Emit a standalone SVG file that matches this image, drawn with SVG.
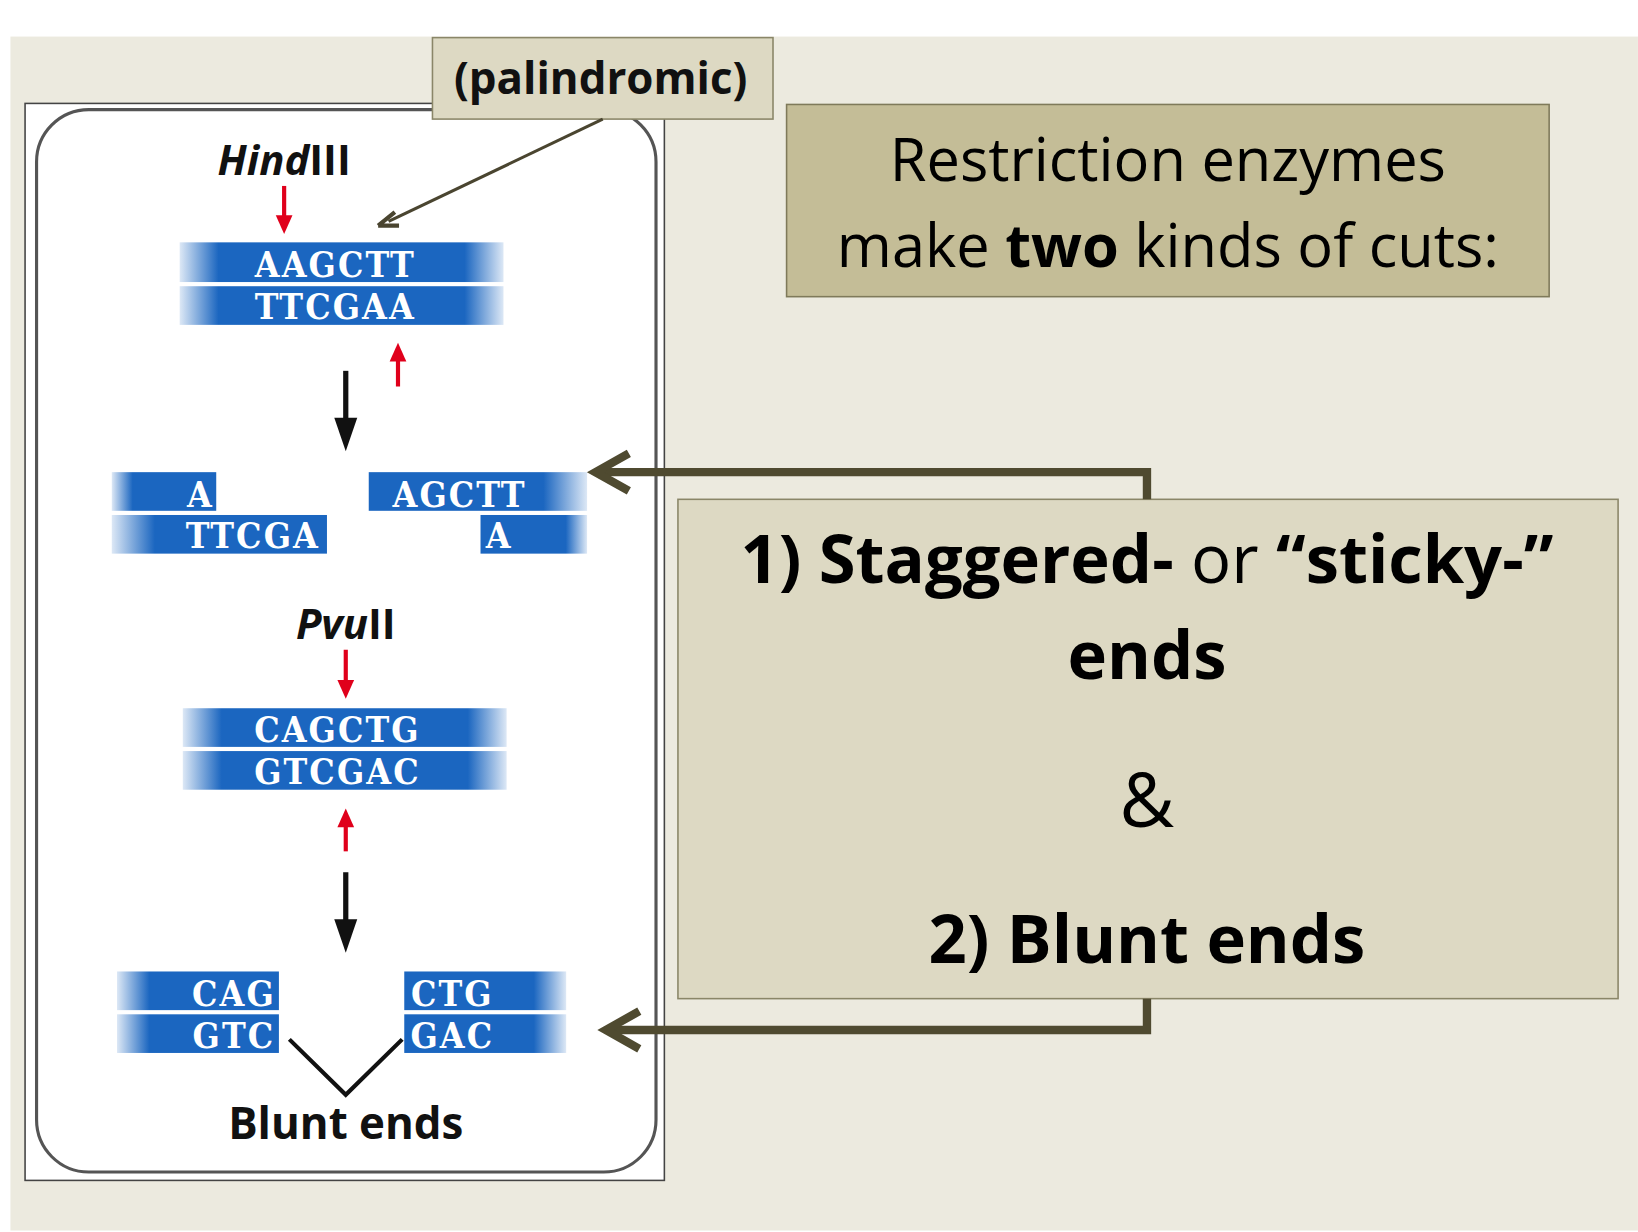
<svg xmlns="http://www.w3.org/2000/svg" width="1638" height="1232" viewBox="0 0 1638 1232">
<defs>
<linearGradient id="gb"><stop offset="0" stop-color="#1b66c0" stop-opacity="0.15"/><stop offset="0.12" stop-color="#1b66c0"/><stop offset="0.88" stop-color="#1b66c0"/><stop offset="1" stop-color="#1b66c0" stop-opacity="0.15"/></linearGradient>
<linearGradient id="gl"><stop offset="0" stop-color="#1b66c0" stop-opacity="0.15"/><stop offset="0.2" stop-color="#1b66c0"/><stop offset="1" stop-color="#1b66c0"/></linearGradient>
<linearGradient id="gr"><stop offset="0" stop-color="#1b66c0"/><stop offset="0.8" stop-color="#1b66c0"/><stop offset="1" stop-color="#1b66c0" stop-opacity="0.15"/></linearGradient>
<style>
.dna{font-family:'DejaVu Serif Condensed','DejaVu Serif',serif;font-stretch:condensed;font-weight:bold;font-size:34px;fill:#fff;text-anchor:middle;letter-spacing:2px}
.lab{font-family:'Open Sans','Liberation Sans',sans-serif;font-weight:bold;fill:#111;text-anchor:middle}
.big{font-family:'Open Sans','Liberation Sans',sans-serif;fill:#000;text-anchor:middle}
.red{stroke:#e0001b;stroke-width:4;fill:none}
.con{fill:none;stroke:#4f4a30;stroke-width:8}
</style>
</defs>
<g transform="scale(1.0446)">
<rect x="10" y="35" width="1558" height="1143" fill="#ECEADF"/>
<g id="panel">
<rect x="24" y="99" width="612" height="1031" fill="#fff" stroke="#444" stroke-width="1.5"/>
<rect x="35" y="105" width="593" height="1017" rx="50" fill="#fff" stroke="#555" stroke-width="3"/>
</g>
<g id="hind">
<text x="272" y="168" class="lab" font-size="40"><tspan font-style="italic">Hind</tspan>III</text>
<path class="red" d="M272,178 V210"/><path d="M264,206 L272,224 L280,206 z" fill="#e0001b"/>
<rect x="172" y="232" width="310" height="38" fill="url(#gb)"/><rect x="172" y="274" width="310" height="37" fill="url(#gb)"/>
<text x="321" y="265" class="dna">AAGCTT</text><text x="321" y="305" class="dna">TTCGAA</text>
<path class="red" d="M381,370 V342"/><path d="M373,346 L381,328 L389,346 z" fill="#e0001b"/>
<path d="M331,355 V405" stroke="#111" stroke-width="5"/><path d="M320,400 L331,432 L342,400 z" fill="#111"/>
</g>
<g id="sticky">
<rect x="107" y="452" width="100" height="37" fill="url(#gl)"/><rect x="107" y="493" width="206" height="37" fill="url(#gl)"/>
<text x="192" y="485" class="dna">A</text><text x="242" y="525" class="dna">TTCGA</text>
<rect x="353" y="452" width="209" height="37" fill="url(#gr)"/><rect x="460" y="493" width="102" height="37" fill="url(#gr)"/>
<text x="440" y="485" class="dna">AGCTT</text><text x="478" y="525" class="dna">A</text>
</g>
<g id="pvu">
<text x="331" y="612" class="lab" font-size="40"><tspan font-style="italic">Pvu</tspan>II</text>
<path class="red" d="M331,622 V655"/><path d="M323,651 L331,669 L339,651 z" fill="#e0001b"/>
<rect x="175" y="678" width="310" height="37" fill="url(#gb)"/><rect x="175" y="719" width="310" height="37" fill="url(#gb)"/>
<text x="323" y="710" class="dna">CAGCTG</text><text x="323" y="751" class="dna">GTCGAC</text>
<path class="red" d="M331,815 V788"/><path d="M323,792 L331,774 L339,792 z" fill="#e0001b"/>
<path d="M331,835 V885" stroke="#111" stroke-width="5"/><path d="M320,880 L331,912 L342,880 z" fill="#111"/>
</g>
<g id="blunt">
<rect x="112" y="930" width="155" height="37" fill="url(#gl)"/><rect x="112" y="971" width="155" height="37" fill="url(#gl)"/>
<text x="224" y="963" class="dna">CAG</text><text x="224" y="1003" class="dna">GTC</text>
<rect x="387" y="930" width="155" height="37" fill="url(#gr)"/><rect x="387" y="971" width="155" height="37" fill="url(#gr)"/>
<text x="433" y="963" class="dna">CTG</text><text x="433" y="1003" class="dna">GAC</text>
<path d="M277,995 L331,1048 L385,995" fill="none" stroke="#111" stroke-width="4"/>
<text x="331" y="1090" class="lab" font-size="42">Blunt ends</text>
</g>
<g id="palin">
<rect x="414" y="36" width="326" height="78" fill="#DDD9C3" stroke="#8a8668" stroke-width="1.5"/>
<text x="575" y="90" class="lab" font-size="42">(palindromic)</text>
</g>
<g id="title">
<rect x="753" y="100" width="730" height="184" fill="#C4BD97" stroke="#7f7a5a" stroke-width="1.5"/>
<text x="1118" y="173" class="big" font-size="57">Restriction enzymes</text>
<text x="1118" y="256" class="big" font-size="57">make <tspan font-weight="bold">two</tspan> kinds of cuts:</text>
</g>
<g id="types">
<rect x="649" y="478" width="900" height="478" fill="#DDD9C3" stroke="#8a8668" stroke-width="1.5"/>
<text x="1098" y="558" class="big" font-size="64"><tspan font-weight="bold">1) Staggered-</tspan> or <tspan font-weight="bold">“sticky-”</tspan></text>
<text x="1098" y="650" class="big" font-size="64" font-weight="bold">ends</text>
<text x="1098" y="792" class="big" font-size="72">&amp;</text>
<text x="1098" y="922" class="big" font-size="64" font-weight="bold">2) Blunt ends</text>
</g>
<g id="connectors">
<path d="M577,114 L372,212" stroke="#4a4530" stroke-width="3"/>
<path d="M362,216 L378,203 M362,216 L382,216" stroke="#4a4530" stroke-width="4" fill="none"/>
<path class="con" d="M1098,478 V452 H572"/>
<path class="con" d="M602,434 L570,452 L602,470"/>
<path class="con" d="M1098,956 V986 H582"/>
<path class="con" d="M612,968 L580,986 L612,1004"/>
</g>
</g>
</svg>
